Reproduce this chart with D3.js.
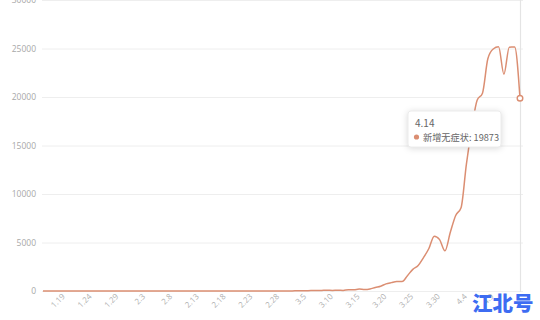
<!DOCTYPE html>
<html><head><meta charset="utf-8">
<script src="https://cdn.jsdelivr.net/npm/d3@7"></script>
<style>html,body{margin:0;padding:0;background:#fff;}svg{display:block;}</style>
</head><body>
<svg id="c" width="540" height="320"></svg>
<script>
const dates = ["1.15","1.16","1.17","1.18","1.19","1.20","1.21","1.22","1.23","1.24","1.25","1.26","1.27","1.28","1.29","1.30","1.31",
"2.1","2.2","2.3","2.4","2.5","2.6","2.7","2.8","2.9","2.10","2.11","2.12","2.13","2.14","2.15","2.16","2.17","2.18","2.19","2.20","2.21","2.22","2.23","2.24","2.25","2.26","2.27","2.28",
"3.1","3.2","3.3","3.4","3.5","3.6","3.7","3.8","3.9","3.10","3.11","3.12","3.13","3.14","3.15","3.16","3.17","3.18","3.19","3.20","3.21","3.22","3.23","3.24","3.25","3.26","3.27","3.28","3.29","3.30","3.31",
"4.1","4.2","4.3","4.4","4.5","4.6","4.7","4.8","4.9","4.10","4.11","4.12","4.13","4.14"];
const asymptomatic = [2,1,0,1,0,2,1,0,0,1,3,1,0,0,1,2,0,
0,1,0,0,2,1,0,0,1,0,0,1,0,2,1,0,0,1,3,2,1,0,2,3,4,5,3,2,
1,2,14,16,28,45,51,62,76,64,78,64,128,130,197,150,203,366,492,734,865,977,979,1582,2231,2631,3450,4381,5656,5298,4144,
6051,7788,8581,13086,16766,19660,20398,23937,24944,25173,22348,25141,25146,19873];
const yTicks = [0,5000,10000,15000,20000,25000,30000];
const xTickLabels = ["1.19","1.24","1.29","2.3","2.8","2.13","2.18","2.23","2.28","3.5","3.10","3.15","3.20","3.25","3.30","4.4","4.9"];
const seriesName = "新增无症状";
const hoverIndex = dates.length - 1;

const svg = d3.select("#c");
const x = d3.scaleLinear().domain([0, dates.length - 1]).range([43, 520]);
const y = d3.scaleLinear().domain([0, 30000]).range([291, 0]);
const color = "#db8e72";

// gridlines
svg.append("g").selectAll("line").data(yTicks).join("line")
  .attr("x1", 42).attr("x2", 523)
  .attr("y1", d => y(d) + 0.5).attr("y2", d => y(d) + 0.5)
  .attr("stroke", "#eeeeee").attr("stroke-width", 1);

// y labels
svg.append("g").selectAll("text").data(yTicks).join("text")
  .attr("x", 36).attr("y", d => y(d) + 3)
  .attr("text-anchor", "end")
  .attr("font-family", "Open Sans, sans-serif").attr("font-size", 8.5)
  .attr("fill", "#a8a8a8").text(d => d);

// x labels
svg.append("g").selectAll("text").data(xTickLabels).join("text")
  .attr("transform", d => `translate(${x(dates.indexOf(d)) + 1},${297}) rotate(-45)`)
  .attr("text-anchor", "end")
  .attr("font-family", "Open Sans, sans-serif").attr("font-size", 8)
  .attr("fill", "#b0b0b0").text(d => d);

// axis pointer
svg.append("line").attr("x1", x(hoverIndex) + 0.5).attr("x2", x(hoverIndex) + 0.5)
  .attr("y1", 0).attr("y2", 292).attr("stroke", "#e4e4e4").attr("stroke-width", 1.2);

// line
const line = d3.line().x((d, i) => x(i)).y(d => y(d)).curve(d3.curveMonotoneX);
svg.append("path").datum(asymptomatic).attr("d", line)
  .attr("fill", "none").attr("stroke", color).attr("stroke-width", 1.5);

// hover point
svg.append("circle").attr("cx", x(hoverIndex)).attr("cy", y(asymptomatic[hoverIndex]))
  .attr("r", 2.8).attr("fill", "#fff").attr("stroke", color).attr("stroke-width", 1.4);

// tooltip
const tip = svg.append("g").attr("transform", "translate(408,111)");
tip.append("rect").attr("width", 93).attr("height", 36).attr("rx", 3)
  .attr("fill", "#fff").attr("stroke", "#ececec")
  .style("filter", "drop-shadow(0px 1px 3px rgba(0,0,0,0.15))");
tip.append("text").attr("x", 7).attr("y", 16)
  .attr("font-family", "Noto Sans CJK SC, sans-serif").attr("font-size", 10)
  .attr("fill", "#666").text(dates[hoverIndex]);
tip.append("circle").attr("cx", 8.5).attr("cy", 26).attr("r", 2.6).attr("fill", color);
tip.append("text").attr("x", 15).attr("y", 29.5)
  .attr("font-family", "Noto Sans CJK SC, sans-serif").attr("font-size", 9.2)
  .attr("fill", "#666").text(seriesName + ": " + asymptomatic[hoverIndex]);

// watermark
svg.append("text").attr("x", 472).attr("y", 311)
  .attr("font-family", "Noto Sans CJK SC, sans-serif").attr("font-weight", 900)
  .attr("font-size", 20.5).attr("fill", "#3d6cf2").text("江北号");
</script>
</body></html>
